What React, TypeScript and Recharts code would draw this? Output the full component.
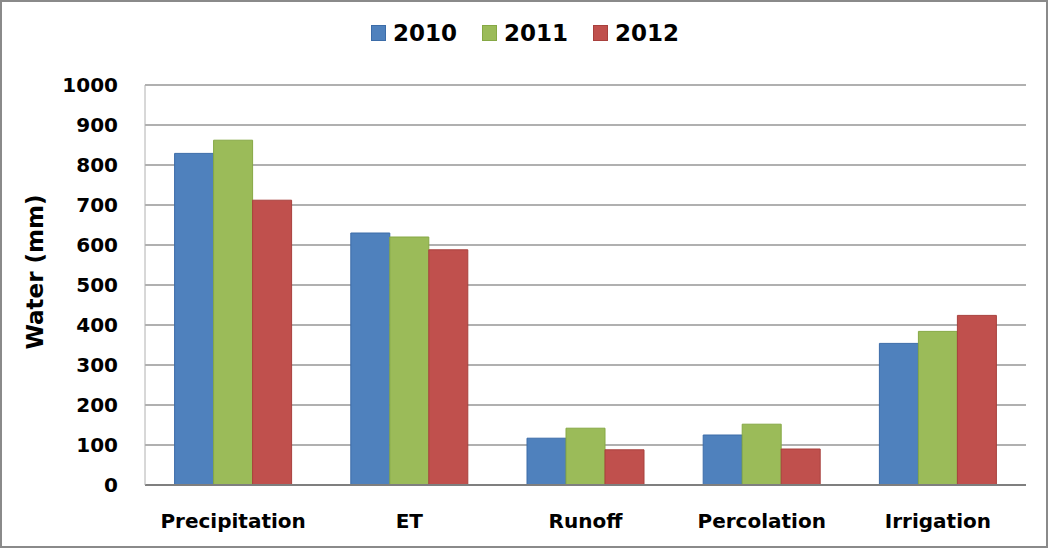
import React from 'react';
import { BarChart, Bar, XAxis, YAxis, CartesianGrid, Legend } from 'recharts';

const categories = ['Precipitation', 'ET', 'Runoff', 'Percolation', 'Irrigation'];
const years = ['2010', '2011', '2012'];
const values2010 = [829, 630, 117, 125, 354];
const values2011 = [862, 620, 142, 152, 384];
const values2012 = [712, 588, 88, 90, 424];
const yTicks = [0, 100, 200, 300, 400, 500, 600, 700, 800, 900, 1000];

const colors = ['#4F81BD', '#9BBB59', '#C0504D'];
const strokes = ['#3C6CA8', '#86A845', '#A8403D'];

const data = categories.map((c, i) => ({
  name: c,
  '2010': values2010[i],
  '2011': values2011[i],
  '2012': values2012[i],
}));

const FONT = '"DejaVu Sans", sans-serif';

const LegendContent = () => (
  <div style={{ display: 'flex', justifyContent: 'center', alignItems: 'center', fontFamily: FONT, fontWeight: 'bold', fontSize: 23, color: '#000' }}>
    {years.map((y, i) => (
      <div key={y} style={{ display: 'flex', alignItems: 'center', marginRight: i < years.length - 1 ? 25 : 0 }}>
        <div style={{ width: 15, height: 16, background: colors[i], border: `1px solid ${strokes[i]}`, boxSizing: 'border-box', marginRight: 7 }} />
        <span style={{ lineHeight: '24px' }}>{y}</span>
      </div>
    ))}
  </div>
);

const YLabel = (props: any) => {
  const vb = props.viewBox || {};
  const cx = (vb.x ?? 0) + 35;
  const cy = (vb.y ?? 0) + (vb.height ?? 0) / 2 - 13;
  return (
    <text x={cx} y={cy} transform={`rotate(-90, ${cx}, ${cy})`} textAnchor="middle" dominantBaseline="central"
      style={{ fontFamily: FONT, fontWeight: 'bold', fontSize: 23, fill: '#000' }}>
      Water (mm)
    </text>
  );
};

export default function App() {
  return (
    <div style={{ position: 'absolute', left: 0, top: 0, width: 1050, height: 550, background: '#fff' }}>
      <BarChart width={1050} height={550} data={data} margin={{ top: 85, right: 24, bottom: 0, left: 0 }}
        barCategoryGap="16.8%" barGap={0}>
        <CartesianGrid vertical={false} stroke="#b0b0b0" strokeWidth={2} />
        <XAxis dataKey="name" height={65} tickSize={0} tickMargin={29} axisLine={{ stroke: '#7f7f7f', strokeWidth: 2 }}
          tickLine={false} interval={0}
          tick={{ fontFamily: FONT, fontWeight: 'bold', fontSize: 20, fill: '#000' }} />
        <YAxis width={145} domain={[0, 1000]} ticks={yTicks} tickSize={0} tickMargin={27} tickLine={false}
          axisLine={{ stroke: '#b0b0b0', strokeWidth: 1 }}
          tick={{ fontFamily: FONT, fontWeight: 'bold', fontSize: 20, fill: '#000' }}
          label={<YLabel />} />
        <Legend verticalAlign="middle" align="center" layout="horizontal" content={<LegendContent />}
          wrapperStyle={{ top: 21, left: 0, width: 1050 }} />
        {years.map((y, i) => (
          <Bar key={y} dataKey={y} fill={colors[i]} stroke={strokes[i]} strokeWidth={1} isAnimationActive={false} />
        ))}
      </BarChart>
      <div style={{ position: 'absolute', left: 0, top: 0, width: 1048, height: 548, border: '2px solid #8a8a8a', boxSizing: 'border-box', pointerEvents: 'none' }} />
    </div>
  );
}
